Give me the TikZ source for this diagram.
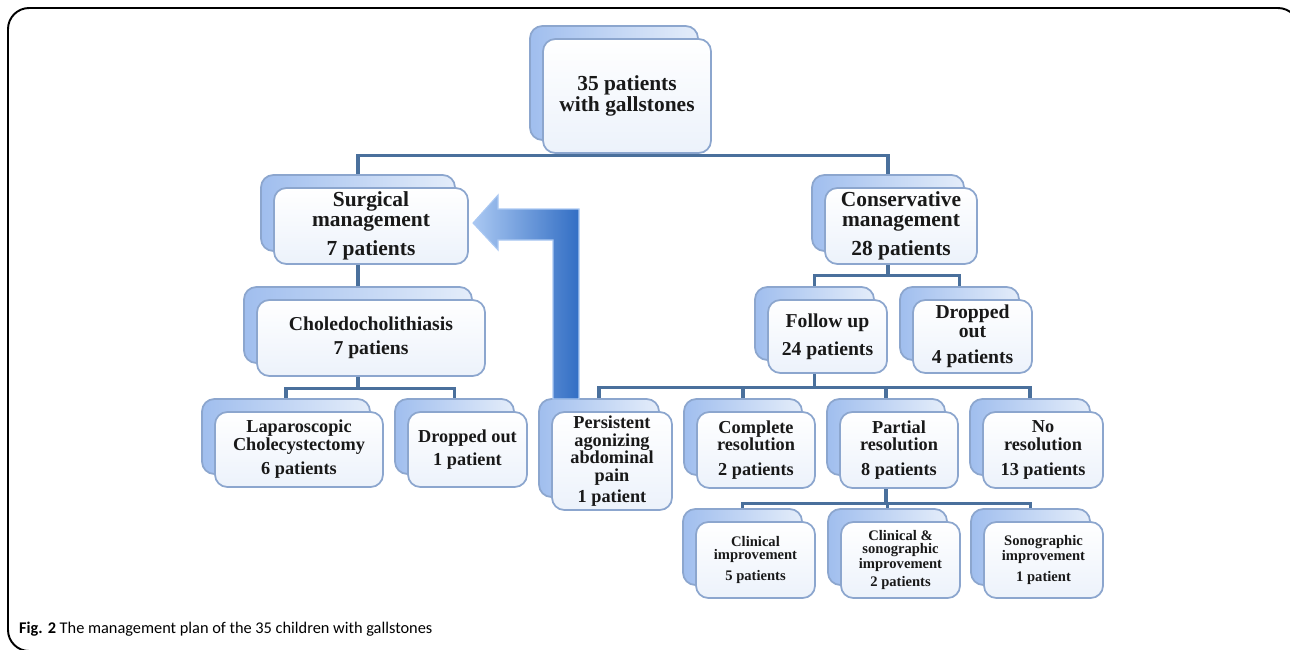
\documentclass[tikz,border=0pt]{standalone}
\usepackage{fontspec}
\setmainfont{Liberation Serif}
\newfontfamily\capfont{Carlito}
\usetikzlibrary{calc,backgrounds}
\definecolor{linkblue}{RGB}{74,112,156}
\definecolor{boxedge}{RGB}{140,166,206}
\definecolor{backdark}{RGB}{160,190,238}
\definecolor{backlight}{RGB}{228,237,250}
\definecolor{frontlow}{RGB}{236,242,251}
\definecolor{arrowlight}{RGB}{170,200,242}
\definecolor{arrowdark}{RGB}{50,110,196}
\definecolor{txt}{RGB}{25,25,25}
\tikzset{
	backbox/.style={draw=boxedge, line width=1pt, rounded corners=7pt, left color=backdark, right color=backlight, inner sep=0pt},
	frontbox/.style={draw=boxedge, line width=1pt, rounded corners=7pt, top color=white, bottom color=frontlow, inner sep=0pt, align=center, text=txt},
	link/.style={draw=linkblue, line width=1.8pt},
	bigtxt/.style={font=\bfseries\fontsize{12.2}{11.5}\selectfont},
	medtxt/.style={font=\bfseries\fontsize{11.2}{10.8}\selectfont},
	midtxt/.style={font=\bfseries\fontsize{10.4}{10}\selectfont},
	smalltxt/.style={font=\bfseries\fontsize{8.3}{7.4}\selectfont}
}
% stacked box: [text style](name)(left,top,right,bottom of front box, in px)
\def\gbox[#1](#2)(#3,#4,#5,#6)#7{%
	\node[backbox, minimum width={(#5-#3)*0.02cm}, minimum height={(#6-#4)*0.02cm}] (#2-b) at ({(#3+#5)/2-13},{(#4+#6)/2-13}) {};
	\node[frontbox, #1, minimum width={(#5-#3)*0.02cm}, minimum height={(#6-#4)*0.02cm}] (#2) at ({(#3+#5)/2},{(#4+#6)/2}) {#7};
}
\begin{document}
\begin{tikzpicture}[x=0.02cm, y=-0.02cm]
			%%%%% START %%%%%
			\useasboundingbox (0,0) rectangle (1290,649);
			\draw[line width=1.1pt, rounded corners=12pt] (40,651) -- (8,651) -- (8,8) -- (1299,8) -- (1299,40);
			
			\gbox[bigtxt](gall)(543,39,711,153){35 patients\\with gallstones}
			\gbox[bigtxt](surg)(274,188,468,264){Surgical\\management\\[5pt]7 patients}
			\gbox[bigtxt](cons)(825,188,977,264){Conservative\\management\\[5pt]28 patients}
			
			\gbox[medtxt](chol)(257,300,485,376){Choledocholithiasis\\[3pt]7 patiens}
			\gbox[medtxt](follow)(768,300,887,373){Follow up\\[5pt]24 patients}
			\gbox[medtxt](dropC)(913,300,1032,373){Dropped\\out\\[4pt]4 patients}
			
			\gbox[midtxt](lap)(215,412,383,487){Laparoscopic\\Cholecystectomy\\[4pt]6 patients}
			\gbox[midtxt](dropS)(408,412,527,487){Dropped out\\[3pt]1 patient}
			\gbox[midtxt](pers)(552,412,672,510){Persistent\\agonizing\\abdominal\\pain\\[2pt]1 patient}
			\gbox[midtxt](compl)(697,412,815,488){Complete\\resolution\\[4pt]2 patients}
			\gbox[midtxt](part)(840,412,958,488){Partial\\resolution\\[4pt]8 patients}
			\gbox[midtxt](nores)(983,412,1103,488){No\\resolution\\[4pt]13 patients}
			
			\gbox[smalltxt](clin)(696,522,815,598){Clinical\\improvement\\[3pt]5 patients}
			\gbox[smalltxt](clinsono)(841,522,960,598){Clinical \&\\sonographic\\improvement\\[2pt]2 patients}
			\gbox[smalltxt](sono)(984,522,1103,598){Sonographic\\improvement\\[3pt]1 patient}
			
			\begin{scope}[on background layer]
			\draw[link] (gall-b.south) -- ++(0,15) -| (surg-b.north);
			\draw[link] (gall-b.south) -- ++(0,15) -| (cons-b.north);
			\draw[link] (surg-b.south) -- (surg-b.south |- chol-b.north);
			\draw[link] (chol-b.south) -- ++(0,25) -| (lap-b.north);
			\draw[link] (chol-b.south) -- ++(0,25) -| (dropS-b.north);
			\draw[link] (cons-b.south) -- ++(0,24) -| (follow-b.north);
			\draw[link] (cons-b.south) -- ++(0,24) -| (dropC-b.north);
			\draw[link] (follow-b.south) -- ++(0,27) -| (pers-b.north);
			\draw[link] (follow-b.south) -- ++(0,27) -| (compl-b.north);
			\draw[link] (follow-b.south) -- ++(0,27) -| (part-b.north);
			\draw[link] (follow-b.south) -- ++(0,27) -| (nores-b.north);
			\draw[link] (part-b.south) -- ++(0,28) -| (clin-b.north);
			\draw[link] (part-b.south) -- ++(0,28) -| (clinsono-b.north);
			\draw[link] (part-b.south) -- ++(0,28) -| (sono-b.north);
			\end{scope}
			
			% block arrow back to surgery
			\draw[draw=arrowlight, line width=0.6pt, left color=arrowlight, right color=arrowdark] (553,399) -- (553,240) -- (498,240) -- (498,250) -- (473,223) -- (498,195) -- (498,209) -- (579,209) -- (579,399) -- cycle;
			
			\node[anchor=base west, font=\capfont\fontsize{9.3}{10}\selectfont] (cap) at (13,633) {\textbf{Fig. 2} The management plan of the 35 children with gallstones};
			%%%%% END %%%%%
		\end{tikzpicture}
\end{document}
